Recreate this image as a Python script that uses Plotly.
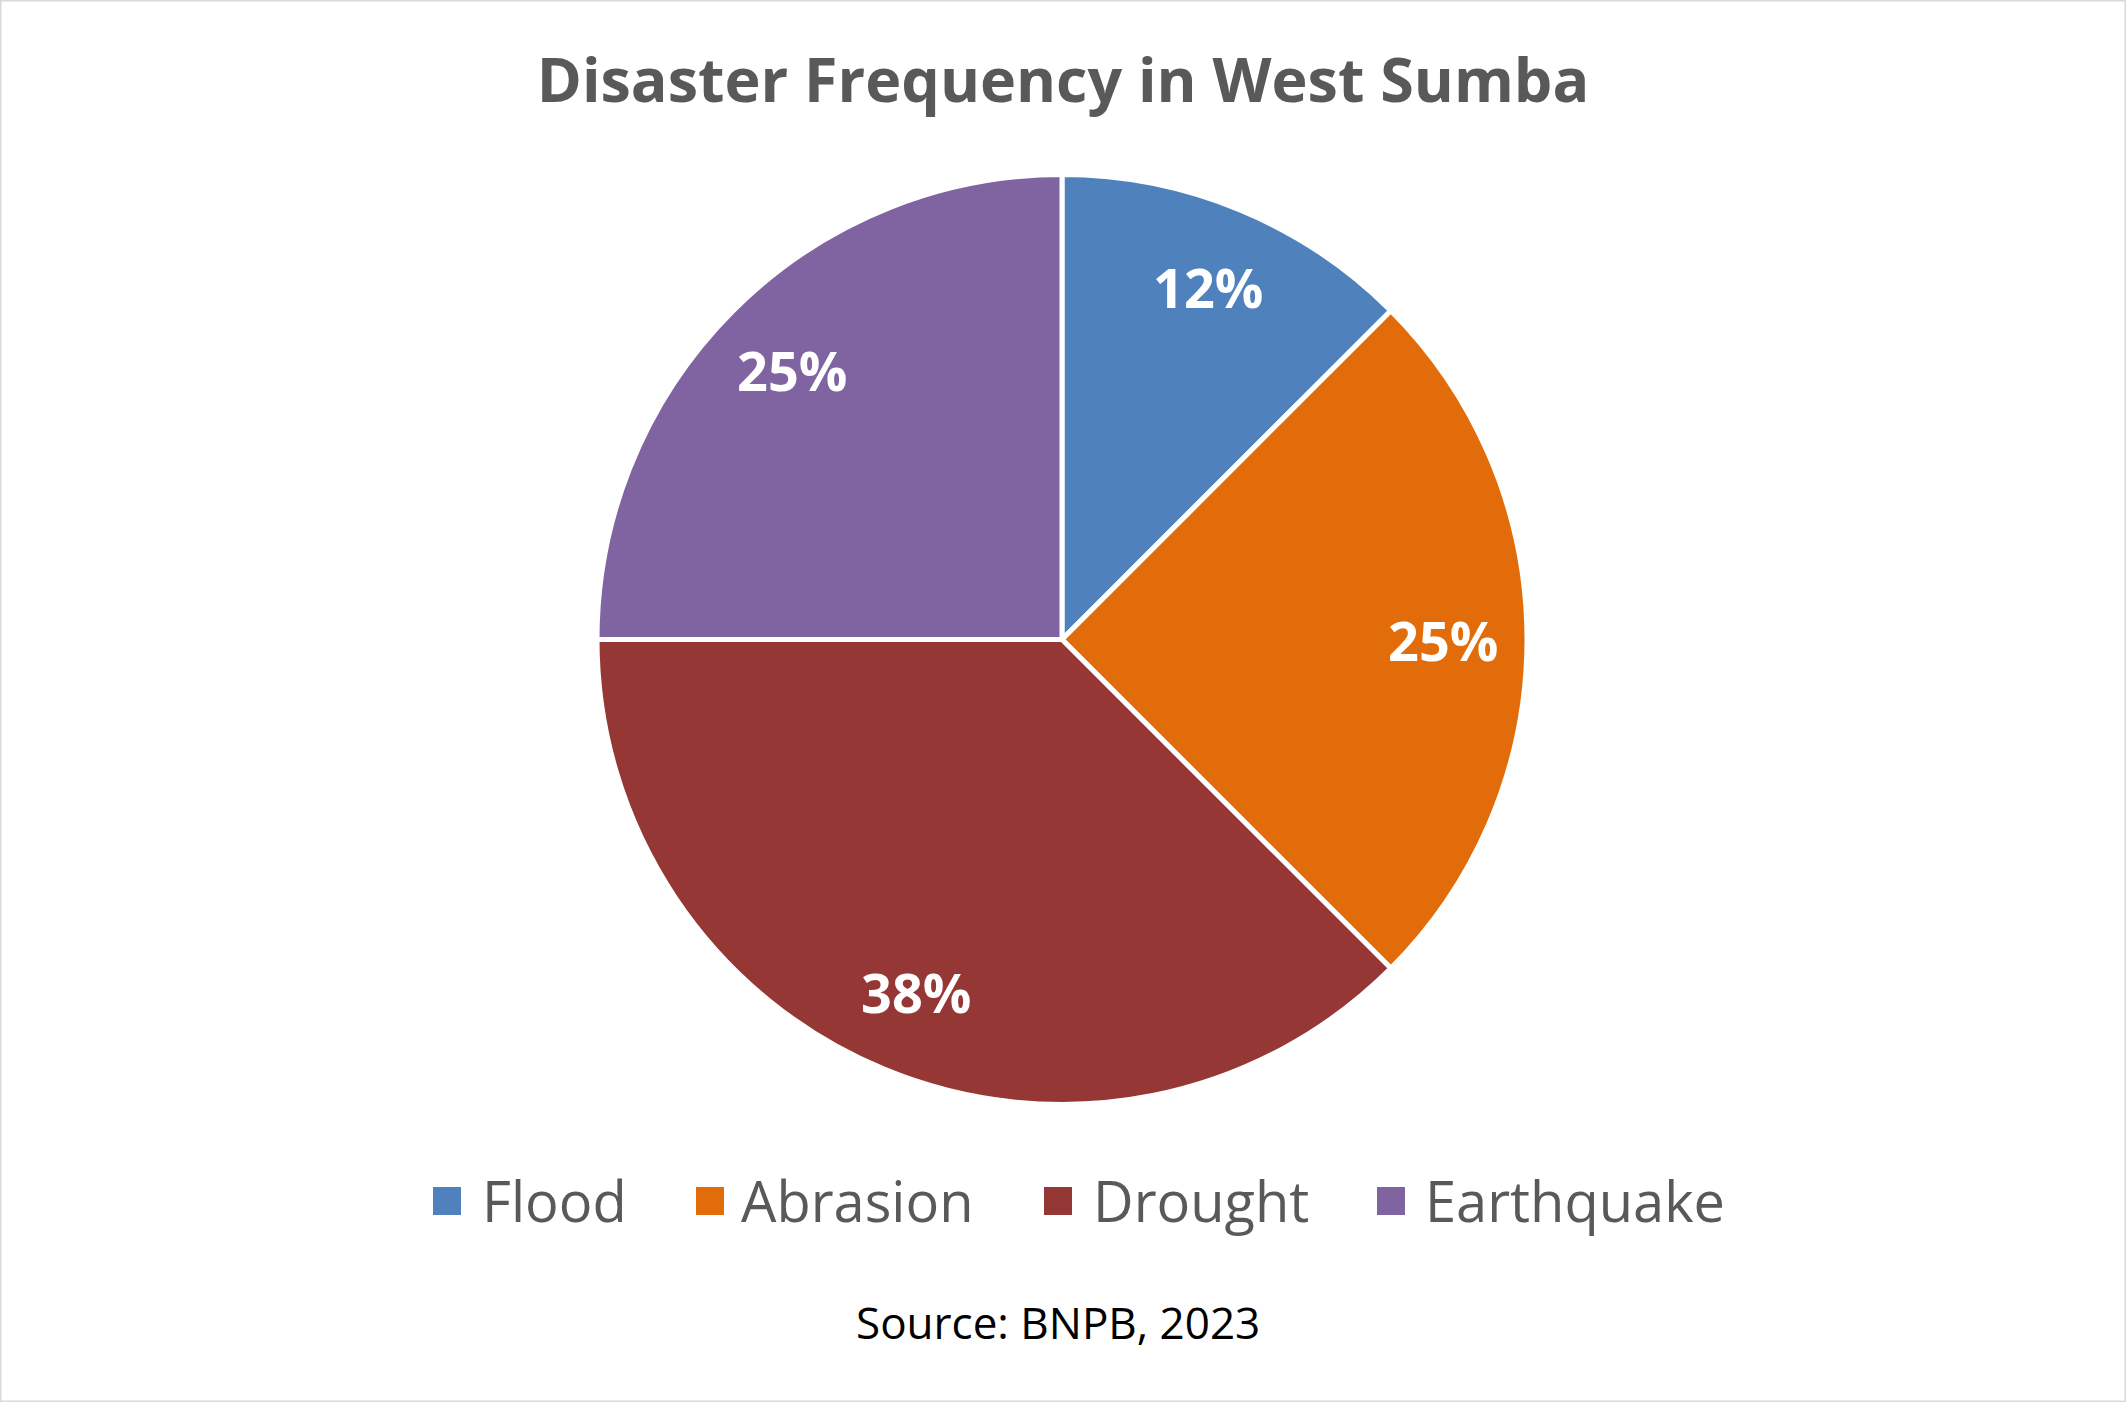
import math
import plotly.graph_objects as go

categories = ["Flood", "Abrasion", "Drought", "Earthquake"]
values = [1, 2, 3, 2]
labels_text = ["12%", "25%", "38%", "25%"]
colors = ["#4F81BD", "#E36C0A", "#953735", "#8064A2"]

title_text = "Disaster Frequency in West Sumba"
source_text = "Source: BNPB, 2023"

W, H = 2126, 1402
cx, cy, r = 1062, 639.5, 465
label_radius_frac = 0.82

# legend layout (pixel positions of the legend entries)
legend_marker_x = [433, 696, 1044, 1377]
legend_text_x = [480, 739, 1091, 1423]
legend_y = 1201
legend_sq = 28

fig = go.Figure(
    go.Pie(
        labels=categories,
        values=values,
        textinfo="none",
        sort=False,
        direction="clockwise",
        rotation=0,
        marker=dict(colors=colors, line=dict(color="white", width=5)),
        domain=dict(x=[(cx - r) / W, (cx + r) / W], y=[(H - cy - r) / H, (H - cy + r) / H]),
        hoverinfo="label+percent",
        showlegend=False,
    )
)

annotations = []
shapes = []

# data labels, placed along each slice's bisector
total = sum(values)
cum = 0
for v, t in zip(values, labels_text):
    mid = (cum + v / 2) / total * 2 * math.pi
    cum += v
    px = cx + label_radius_frac * r * math.sin(mid)
    py = cy - label_radius_frac * r * math.cos(mid)
    annotations.append(
        dict(
            text=t,
            x=px / W,
            y=1 - py / H,
            xref="paper",
            yref="paper",
            xanchor="center",
            yanchor="middle",
            showarrow=False,
            font=dict(family="Open Sans", size=54, color="white", weight="bold"),
        )
    )

# legend
for name, col, mx, tx in zip(categories, colors, legend_marker_x, legend_text_x):
    shapes.append(
        dict(
            type="rect",
            xref="paper",
            yref="paper",
            x0=mx / W,
            x1=(mx + legend_sq) / W,
            y0=1 - (legend_y + legend_sq / 2) / H,
            y1=1 - (legend_y - legend_sq / 2) / H,
            fillcolor=col,
            line=dict(width=0),
        )
    )
    annotations.append(
        dict(
            text=name,
            x=tx / W,
            y=1 - 1200 / H,
            xref="paper",
            yref="paper",
            xanchor="left",
            yanchor="middle",
            showarrow=False,
            font=dict(family="Open Sans", size=56, color="#595959"),
        )
    )

annotations.append(
    dict(
        text=source_text,
        x=1058 / W,
        xref="paper",
        y=1 - 1322 / H,
        yref="paper",
        xanchor="center",
        yanchor="middle",
        showarrow=False,
        font=dict(family="Open Sans", size=44, color="black"),
    )
)

shapes.append(
    dict(
        type="rect",
        xref="paper",
        yref="paper",
        x0=0,
        x1=1,
        y0=0,
        y1=1,
        line=dict(color="#D9D9D9", width=3),
        fillcolor="rgba(0,0,0,0)",
    )
)

fig.update_layout(
    width=W,
    height=H,
    margin=dict(l=0, r=0, t=0, b=0),
    paper_bgcolor="white",
    plot_bgcolor="white",
    title=dict(
        text=title_text,
        x=0.5,
        xanchor="center",
        y=1 - 81 / H,
        yanchor="middle",
        font=dict(family="Open Sans", size=61, color="#595959", weight="bold"),
    ),
    showlegend=False,
    annotations=annotations,
    shapes=shapes,
)

fig.write_html("out.html")
